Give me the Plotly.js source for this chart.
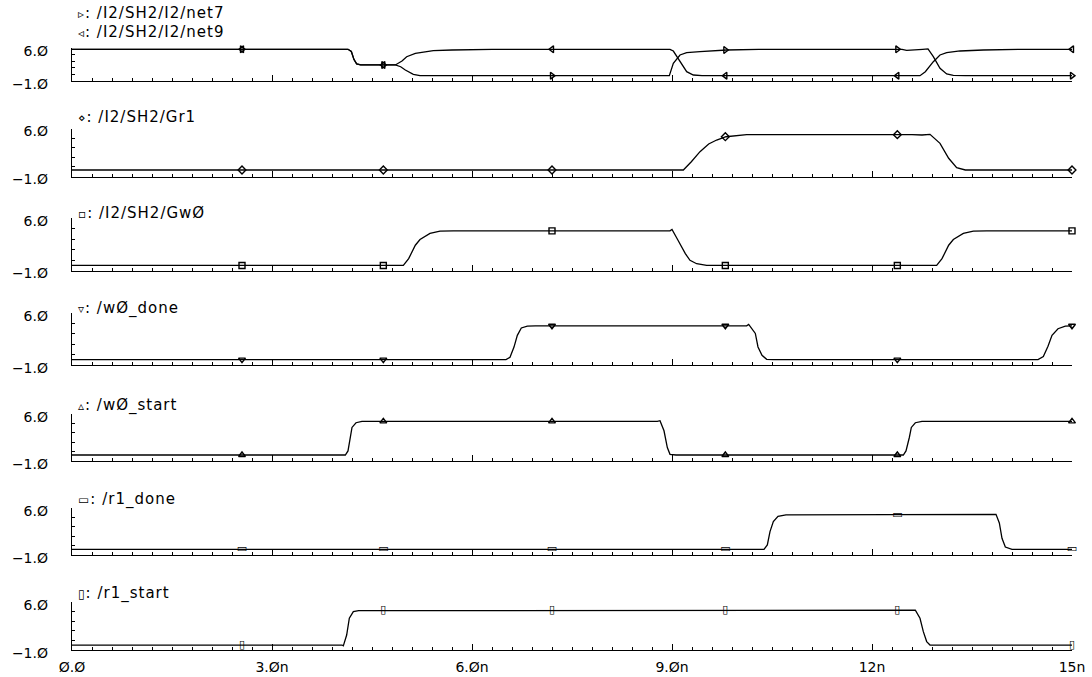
<!DOCTYPE html>
<html>
<head>
<meta charset="utf-8">
<script src="https://cdn.plot.ly/plotly-3.0.1.min.js"></script>
<style>
html,body{margin:0;padding:0;background:#fff;}
#chart{width:1092px;height:677px;}
.annotation-text{letter-spacing:1px;}
</style>
</head>
<body>
<div id="chart"></div>
<script>
// ---- data (time in ns, values in V) ----
const t_net7 = [0, 4.14, 4.19, 4.23, 4.27, 4.33, 4.85, 4.93, 5.0, 5.12, 5.22, 5.4, 8.96, 9.02, 9.12, 9.22, 9.42, 9.82, 10.3, 12.45, 12.52, 12.65, 12.76, 12.84, 12.92, 13.02, 13.12, 13.22, 13.4, 15];
const v_net7 = [5.66, 5.66, 5.2, 3.5, 2.6, 2.37, 2.37, 2.0, 1.32, 0.41, 0.15, 0.12, 0.12, 2.72, 4.47, 4.95, 5.16, 5.52, 5.66, 5.66, 5.45, 5.5, 5.66, 5.75, 4.11, 1.67, 0.47, 0.2, 0.12, 0.12];

const t_net9 = [0, 4.14, 4.19, 4.23, 4.27, 4.33, 4.85, 4.95, 5.02, 5.15, 5.42, 5.7, 6.3, 8.97, 9.02, 9.12, 9.22, 9.32, 9.45, 12.72, 12.8, 12.92, 13.02, 13.12, 13.32, 13.67, 14.2, 15];
const v_net9 = [5.66, 5.66, 5.2, 3.5, 2.6, 2.37, 2.37, 3.2, 4.11, 4.82, 5.37, 5.52, 5.66, 5.66, 5.3, 3.06, 0.96, 0.26, 0.12, 0.12, 0.96, 3.06, 4.47, 4.95, 5.31, 5.52, 5.66, 5.66];

const t_gr1 = [0, 9.17, 9.29, 9.42, 9.55, 9.67, 9.81, 9.97, 10.12, 12.6, 12.75, 12.87, 13.02, 13.15, 13.27, 13.4, 15];
const v_gr1 = [-0.05, -0.05, 1.16, 2.62, 3.74, 4.32, 4.8, 5.0, 5.1, 5.1, 5.05, 5.15, 3.84, 1.66, 0.3, -0.05, -0.05];

const t_gw0 = [0, 4.97, 5.05, 5.15, 5.22, 5.37, 5.52, 5.72, 8.97, 9.0, 9.09, 9.2, 9.27, 9.37, 9.52, 12.97, 13.05, 13.15, 13.22, 13.37, 13.52, 13.72, 15];
const v_gw0 = [-0.32, -0.32, 0.59, 2.39, 3.16, 3.97, 4.28, 4.32, 4.32, 4.51, 3.06, 1.26, 0.36, -0.09, -0.32, -0.32, 0.59, 2.39, 3.16, 3.97, 4.28, 4.32, 4.32];

const t_w0done = [0, 6.51, 6.57, 6.63, 6.68, 6.74, 6.83, 6.95, 10.12, 10.15, 10.25, 10.29, 10.35, 10.42, 10.52, 14.49, 14.57, 14.64, 14.7, 14.79, 14.9, 15];
const v_w0done = [-0.31, -0.31, 0.0, 1.4, 3.0, 4.0, 4.25, 4.3, 4.3, 4.49, 3.26, 1.42, 0.28, -0.27, -0.31, -0.31, 0.1, 1.5, 3.0, 3.9, 4.25, 4.3];

const t_w0start = [0, 4.1, 4.14, 4.17, 4.2, 4.26, 4.35, 8.78, 8.82, 8.88, 8.93, 8.97, 9.06, 12.47, 12.51, 12.56, 12.59, 12.65, 12.75, 15];
const v_w0start = [-0.11, -0.11, 0.5, 2.5, 4.0, 4.7, 4.9, 4.9, 5.0, 3.5, 1.0, 0.0, -0.11, -0.11, 0.5, 2.5, 4.0, 4.7, 4.9, 4.9];

const t_r1done = [0, 10.38, 10.43, 10.47, 10.52, 10.59, 10.71, 13.82, 13.86, 13.91, 13.95, 14.0, 14.1, 15];
const v_r1done = [-0.15, -0.15, 0.5, 2.5, 4.0, 4.8, 5.0, 5.0, 5.1, 3.8, 1.5, 0.2, -0.15, -0.15];

const t_r1start = [0, 4.05, 4.07, 4.12, 4.16, 4.22, 4.3, 12.6, 12.65, 12.72, 12.77, 12.82, 12.87, 15];
const v_r1start = [-0.28, -0.28, -0.4, 1.17, 3.6, 4.55, 4.7, 4.7, 4.77, 3.6, 1.66, 0.22, -0.28, -0.28];

// marker positions along time and the values there
const mk_t = [2.55, 4.67, 7.2, 9.8, 12.38, 15];
const mk_net7 = [5.66, 2.37, 0.12, 5.52, 5.66, 0.12];
const mk_net9 = [5.66, 2.37, 5.66, 0.12, 0.12, 5.66];
const mk_gr1 = [-0.05, -0.05, -0.05, 4.8, 5.1, -0.05];
const mk_gw0 = [-0.32, -0.32, 4.32, -0.32, -0.32, 4.32];
const mk_w0done = [-0.31, -0.31, 4.3, 4.3, -0.31, 4.3];
const mk_w0start = [-0.11, 4.9, 4.9, -0.11, -0.11, 4.9];
const mk_r1done = [-0.15, -0.15, -0.15, -0.15, 5.0, -0.15];
const mk_r1start = [-0.28, 4.7, 4.7, 4.7, 4.7, -0.28];

const x_ticklabels = {'0':'Ø.Ø','3':'3.Øn','6':'6.Øn','9':'9.Øn','12':'12n','15':'15n'};
const y_ticklabels = {'6.0':'6.Ø','−1.0':'−1.Ø','-1.0':'−1.Ø'};

// ---- layout helpers (pixel geometry of the picture) ----
const PT = 5, PB = 650, PH = PB - PT;
function fy(px){ return (PB - px) / PH; }

const panels = [
  {top:47.7, bot:81, series:[
    {t:t_net7, v:v_net7, mv:mk_net7, sym:'triangle-right-open', glyph:'▹', name:'/I2/SH2/I2/net7', ly:13},
    {t:t_net9, v:v_net9, mv:mk_net9, sym:'triangle-left-open', glyph:'◃', name:'/I2/SH2/I2/net9', ly:32}]},
  {top:128.5, bot:176.5, series:[{t:t_gr1, v:v_gr1, mv:mk_gr1, sym:'diamond-open', glyph:'⋄', name:'/I2/SH2/Gr1', ly:117}]},
  {top:218.3, bot:270.5, series:[{t:t_gw0, v:v_gw0, mv:mk_gw0, sym:'square-open', glyph:'▫', name:'/I2/SH2/GwØ', ly:213}]},
  {top:313.3, bot:364.7, series:[{t:t_w0done, v:v_w0done, mv:mk_w0done, sym:'triangle-down-open', glyph:'▿', name:'/wØ_done', ly:308}]},
  {top:414, bot:461, series:[{t:t_w0start, v:v_w0start, mv:mk_w0start, sym:'triangle-up-open', glyph:'▵', name:'/wØ_start', ly:405}]},
  {top:508.3, bot:555, series:[{t:t_r1done, v:v_r1done, mv:mk_r1done, sym:null, glyph:'▭', name:'/r1_done', ly:499}]},
  {top:601.7, bot:650, series:[{t:t_r1start, v:v_r1start, mv:mk_r1start, sym:null, glyph:'▯', name:'/r1_start', ly:593}]}
];

const FONT = 'DejaVu Sans, sans-serif';
const traces = [];
const annotations = [];
const layout = {
  width:1092, height:677,
  margin:{l:72, r:20, t:PT, b:677-PB},
  paper_bgcolor:'#fff', plot_bgcolor:'#fff',
  showlegend:false,
  font:{family:FONT, color:'#000', size:14},
  annotations:annotations
};

panels.forEach((p, i) => {
  const n = i + 1;
  const xa = 'x' + (n === 1 ? '' : n), ya = 'y' + (n === 1 ? '' : n);
  const xk = 'xaxis' + (n === 1 ? '' : n), yk = 'yaxis' + (n === 1 ? '' : n);
  layout[xk] = {
    domain:[0,1], anchor:ya, range:[0,15],
    showline:true, linecolor:'#000', linewidth:1.2,
    showgrid:false, zeroline:false,
    tickmode:'linear', tick0:0, dtick:3,
    ticks:'inside', ticklen:6, tickwidth:1, tickcolor:'#000',
    minor:{tickmode:'linear', tick0:0, dtick:0.3, ticks:'inside', ticklen:3, tickwidth:1, tickcolor:'#000', showgrid:false},
    showticklabels:(n === panels.length),
    labelalias:x_ticklabels,
    ticklabelstandoff:4,
    tickfont:{family:FONT, size:14, color:'#000'},
    fixedrange:true
  };
  layout[yk] = {
    domain:[fy(p.bot), fy(p.top)], anchor:xa, range:[-1,6],
    showline:true, linecolor:'#000', linewidth:1.2,
    showgrid:false, zeroline:false,
    tickmode:'linear', tick0:-1, dtick:7, tickformat:'.1f',
    ticks:'inside', ticklen:5, tickwidth:1, tickcolor:'#000',
    minor:{tickmode:'linear', tick0:-1, dtick:1.4, ticks:'inside', ticklen:3, tickwidth:1, tickcolor:'#000', showgrid:false},
    labelalias:y_ticklabels,
    ticklabelstandoff:20, ticklabelshift:3,
    tickfont:{family:FONT, size:14, color:'#000'},
    fixedrange:true
  };
  p.series.forEach(s => {
    traces.push({
      type:'scatter', mode:'lines', x:s.t, y:s.v, xaxis:xa, yaxis:ya,
      line:{color:'#000', width:1.3}, hoverinfo:'skip', cliponaxis:false
    });
    if (s.sym) {
      traces.push({
        type:'scatter', mode:'markers', x:mk_t, y:s.mv, xaxis:xa, yaxis:ya,
        marker:{symbol:s.sym, size:6, color:'#000', line:{color:'#000', width:1.4}},
        hoverinfo:'skip', cliponaxis:false
      });
    } else {
      traces.push({
        type:'scatter', mode:'text', x:mk_t, y:s.mv, xaxis:xa, yaxis:ya,
        text:mk_t.map(() => '<b>' + s.glyph + '</b>'), textposition:'middle center',
        textfont:{family:FONT, size:11, color:'#000'},
        hoverinfo:'skip', cliponaxis:false
      });
    }
    annotations.push({
      xref:'paper', yref:'paper', x:0.004, y:fy(s.ly),
      xanchor:'left', yanchor:'middle', showarrow:false,
      text:'<span style="font-size:12px">' + s.glyph + '</span>: ' + s.name,
      font:{family:FONT, size:15, color:'#000'}
    });
  });
});

Plotly.newPlot('chart', traces, layout, {displayModeBar:false, staticPlot:true});
</script>
</body>
</html>
